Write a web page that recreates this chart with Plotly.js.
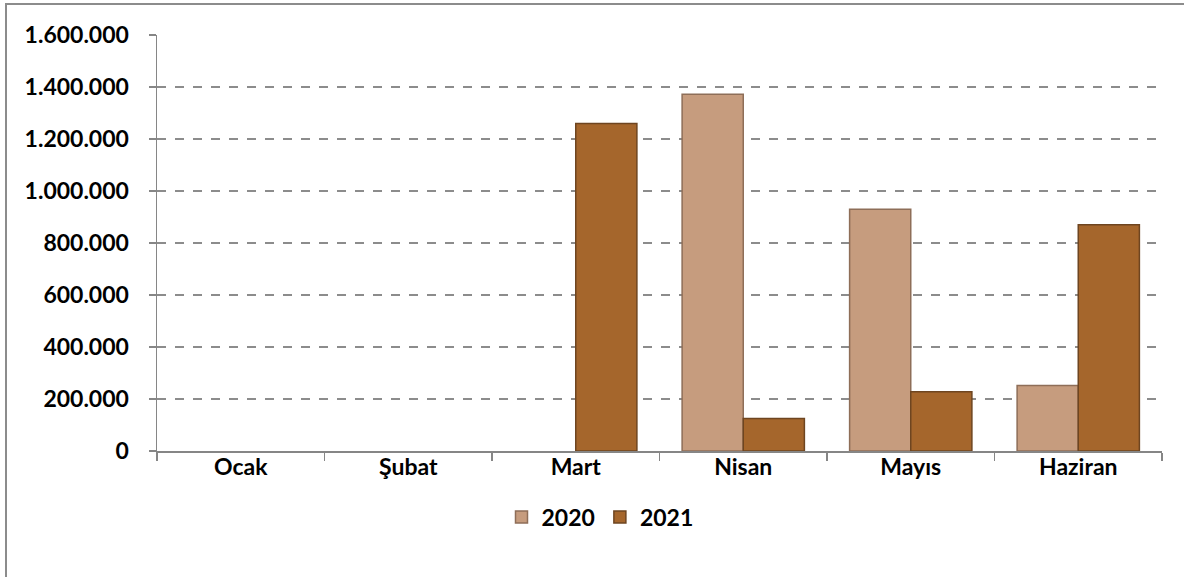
<!DOCTYPE html>
<html>
<head>
<meta charset="utf-8">
<script src="https://cdn.plot.ly/plotly-3.0.1.min.js"></script>
<style>html,body{margin:0;padding:0;background:#fff;}#chart{width:1184px;height:577px;}</style>
</head>
<body>
<div id="chart"></div>
<script>
const months = ['Ocak', 'Şubat', 'Mart', 'Nisan', 'Mayıs', 'Haziran'];
const values2020 = [null, null, null, 1372000, 930000, 252000];
const values2021 = [null, null, 1260000, 125000, 228000, 870000];
const yTicks = [0, 200000, 400000, 600000, 800000, 1000000, 1200000, 1400000, 1600000];

const fam = 'Lato, "Open Sans", sans-serif';
const boldFont = {family: fam, size: 23, color: '#000', weight: 'bold'};

const traces = [
  {type: 'bar', name: '2020', x: months, y: values2020,
   marker: {color: '#C69C7E', line: {color: '#8E6E58', width: 1.5}}},
  {type: 'bar', name: '2021', x: months, y: values2021,
   marker: {color: '#A5662C', line: {color: '#6E4520', width: 1.5}}}
];

const layout = {
  width: 1184, height: 577,
  margin: {l: 157, r: 22, t: 35, b: 126},
  paper_bgcolor: '#fff', plot_bgcolor: '#fff',
  separators: ',.',
  barmode: 'group', bargap: 0.27, bargroupgap: 0,
  font: {family: fam, size: 23, color: '#000'},
  showlegend: true,
  legend: {orientation: 'h', x: (600 - 157) / 1005, xanchor: 'center', y: -0.159, yanchor: 'middle',
           font: boldFont, itemwidth: 30, tracegroupgap: 0},
  xaxis: {
    type: 'category', showline: true, linecolor: '#868686', linewidth: 1.5,
    ticks: 'outside', tickson: 'boundaries', ticklen: 8, tickcolor: '#868686', tickwidth: 1.5,
    ticklabelstandoff: -5,
    tickfont: boldFont,
    showgrid: false, fixedrange: true
  },
  yaxis: {
    range: [0, 1600000], tickvals: yTicks, tickformat: ',d',
    showline: true, linecolor: '#868686', linewidth: 1.5,
    ticks: 'outside', ticklen: 7, tickcolor: '#868686', tickwidth: 1.5,
    ticklabelstandoff: 15,
    tickfont: boldFont,
    showgrid: true, gridcolor: '#8C8C8C', gridwidth: 1.5, griddash: 'dash',
    zeroline: false, fixedrange: true
  },
  shapes: [
    {type: 'rect', xref: 'paper', yref: 'paper',
     x0: (6 - 157) / 1005, x1: (1200 - 157) / 1005,
     y0: (451 - 600) / 416, y1: (451 - 4) / 416,
     line: {color: '#8C8C8C', width: 2}, fillcolor: 'rgba(0,0,0,0)', layer: 'below'}
  ]
};

Plotly.newPlot('chart', traces, layout, {displayModeBar: false, staticPlot: true});
</script>
</body>
</html>
